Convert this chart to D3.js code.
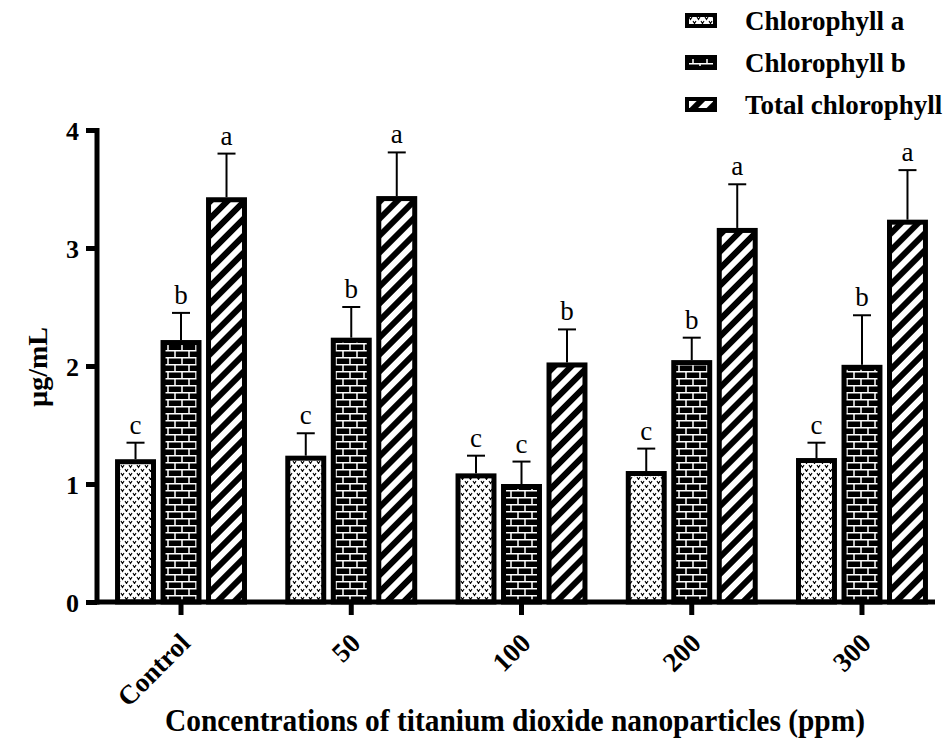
<!DOCTYPE html>
<html><head><meta charset="utf-8">
<script src="https://cdn.jsdelivr.net/npm/d3@7"></script>
<style>body{margin:0;background:#fff}</style>
</head><body>
<svg id="c" width="950" height="740"></svg>
<script>
const categories = ["Control","50","100","200","300"];
const series = ["Chlorophyll a","Chlorophyll b","Total chlorophyll"];
const chlA = [1.21,1.24,1.09,1.11,1.22];
const chlAErr = [0.14,0.19,0.15,0.19,0.13];
const chlB = [2.22,2.24,1.00,2.05,2.01];
const chlBErr = [0.23,0.26,0.19,0.19,0.42];
const total = [3.43,3.44,2.03,3.17,3.24];
const totalErr = [0.37,0.37,0.28,0.37,0.42];
const lettersA = ["c","c","c","c","c"];
const lettersB = ["b","b","c","b","b"];
const lettersT = ["a","a","b","a","a"];
const yTicks = [0,1,2,3,4];

const values = [chlA, chlB, total];
const errs = [chlAErr, chlBErr, totalErr];
const letters = [lettersA, lettersB, lettersT];

const svg = d3.select("#c");
const font = "'Liberation Serif','Times New Roman',serif";
const defs = svg.append("defs");

// Pattern: chlorophyll a (dots)
const pa = defs.append("pattern").attr("id","pA").attr("patternUnits","userSpaceOnUse").attr("width",8).attr("height",8);
pa.append("rect").attr("width",8).attr("height",8).attr("fill","#fff");
pa.append("path").attr("d","M1,1 L2.5,3.5 L4,1 M5,5 L6.5,7.5 L8,5 M-3,5 L-1.5,7.5 L0,5").attr("stroke","#000").attr("stroke-width",1.1).attr("fill","none");
// Pattern: chlorophyll b (bricks)
const pb = defs.append("pattern").attr("id","pB").attr("patternUnits","userSpaceOnUse").attr("width",14).attr("height",14);
pb.append("rect").attr("width",14).attr("height",14).attr("fill","#000");
pb.append("path").attr("d","M0,0.75 H14 M0,7.75 H14 M7,0 V7 M0,7 V14 M14,7 V14").attr("stroke","#fff").attr("stroke-width",1.5).attr("fill","none");
// Pattern: total (diagonal stripes)
const pt = defs.append("pattern").attr("id","pT").attr("patternUnits","userSpaceOnUse").attr("width",12).attr("height",12).attr("patternTransform","rotate(45)");
pt.append("rect").attr("width",12).attr("height",12).attr("fill","#fff");
pt.append("rect").attr("x",0).attr("width",6).attr("height",12).attr("fill","#000");
const fills = ["url(#pA)","url(#pB)","url(#pT)"];

const x0 = d3.scaleBand().domain(categories).range([97, 946]).paddingInner(0.225).paddingOuter(0.106);
const y = d3.scaleLinear().domain([0,4]).range([602,130]);
const x1 = d3.scaleBand().domain(series).range([0, x0.bandwidth()]).paddingInner(0.1);

const g = svg.append("g");
categories.forEach((cat,i)=>{
  series.forEach((s,j)=>{
    const v = values[j][i], e = errs[j][i];
    const bx = x0(cat)+x1(s), bw = x1.bandwidth();
    const cx = bx + bw/2;
    g.append("line").attr("x1",cx).attr("x2",cx).attr("y1",y(v)).attr("y2",y(v+e)).attr("stroke","#000").attr("stroke-width",2);
    g.append("line").attr("x1",cx-9).attr("x2",cx+9).attr("y1",y(v+e)).attr("y2",y(v+e)).attr("stroke","#000").attr("stroke-width",2);
    g.append("rect").attr("x",bx+2.5).attr("y",y(v)+2.5).attr("width",bw-5).attr("height",y(0)-y(v)-2.5)
      .attr("fill",fills[j]).attr("stroke","#000").attr("stroke-width",5);
    g.append("text").attr("x",cx).attr("y",y(v+e)-9).attr("text-anchor","middle")
      .attr("font-family",font).attr("font-size",27).text(letters[j][i]);
  });
});

// Axes
const yAxis = svg.append("g").attr("transform","translate(97,0)").call(d3.axisLeft(y).tickValues(yTicks).tickSize(11).tickPadding(7).tickFormat(d3.format("d")));
yAxis.select(".domain").attr("stroke-width",5).attr("d","M0,128V604.5");
yAxis.selectAll(".tick line").attr("stroke-width",5);
yAxis.selectAll("text").attr("font-family",font).attr("font-size",26).attr("font-weight","bold").attr("fill","#000").attr("dy","0.35em");

const xAxis = svg.append("g").attr("transform","translate(0,602)").call(d3.axisBottom(x0).tickSize(13).tickPadding(8));
xAxis.select(".domain").attr("stroke-width",5).attr("d","M95,0H935");
xAxis.selectAll(".tick line").attr("stroke-width",5);
xAxis.selectAll("text").attr("font-family",font).attr("font-size",27).attr("font-weight","bold").attr("fill","#000")
  .attr("text-anchor","end").attr("y",0).attr("dy","0.35em").attr("transform","translate(4,36) rotate(-45)");

// Axis titles
svg.append("text").attr("transform","translate(47,367) rotate(-90)").attr("text-anchor","middle")
  .attr("font-family",font).attr("font-size",28).attr("font-weight","bold").text("µg/mL");
svg.append("text").attr("x",515).attr("y",731).attr("text-anchor","middle")
  .attr("textLength",700).attr("lengthAdjust","spacingAndGlyphs")
  .attr("font-family",font).attr("font-size",32).attr("font-weight","bold").text("Concentrations of titanium dioxide nanoparticles (ppm)");

// Legend
const lg = svg.append("g");
series.forEach((s,j)=>{
  const yy = 21 + j*42;
  lg.append("rect").attr("x",687).attr("y",yy-6).attr("width",28).attr("height",11).attr("fill",fills[j]).attr("stroke","#000").attr("stroke-width",4);
  lg.append("text").attr("x",745).attr("y",yy).attr("dy","0.35em").attr("font-family",font).attr("font-size",27).attr("font-weight","bold").text(s);
});
</script>
</body></html>
